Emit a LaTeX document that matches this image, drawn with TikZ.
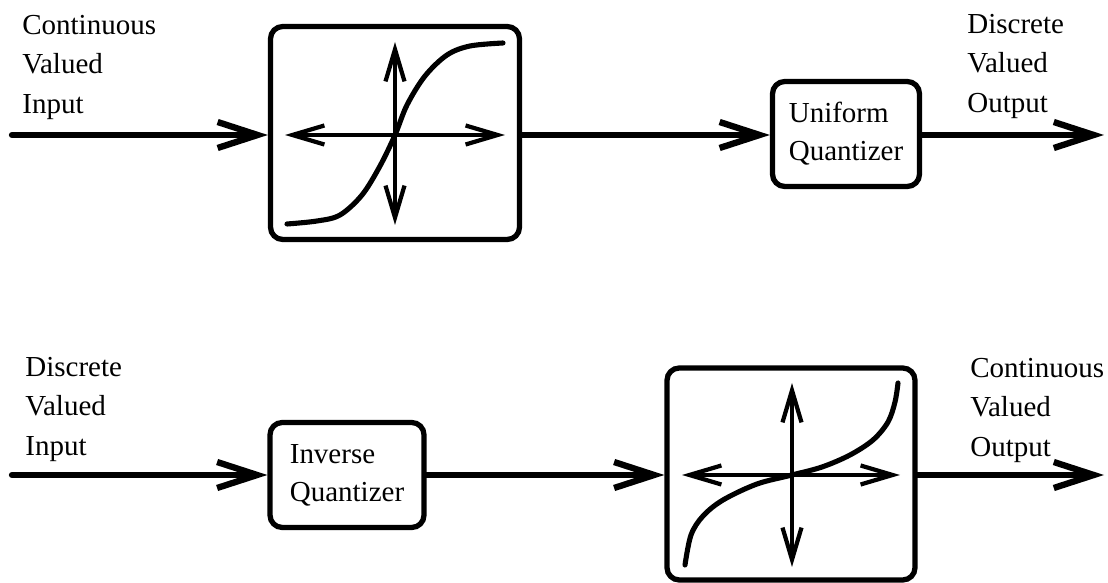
\documentclass[tikz,border=0pt]{standalone}
\usepackage{fontspec}
\setmainfont{Liberation Serif}
\usetikzlibrary{arrows.meta}

\tikzset{
  lbl/.style={align=left, anchor=north west, inner sep=0pt, font=\fontsize{16.5}{22.4}\selectfont},
  blk/.style={draw, line width=3pt, rounded corners=7pt, align=left, inner sep=0pt, font=\fontsize{16.5}{21.6}\selectfont},
  flow/.style={line width=3.6pt, line cap=round, -{Straight Barb[length=8mm,width=5.2mm]}},
  axes/.style={line width=2.4pt, {Straight Barb[length=6.4mm,width=3.8mm]}-{Straight Barb[length=6.4mm,width=3.8mm]}},
  curve/.style={line width=2.9pt, line cap=round},
}

\begin{document}
\begin{tikzpicture}[x=0.2mm,y=-0.2mm]
  \useasboundingbox (0,0) rectangle (1108,583);

  % upper chain: compressor, then quantizer
  \node[lbl] (cin) at (22,15) {Continuous\\Valued\\Input};
  \node[lbl] (dout) at (967,14) {Discrete\\Valued\\Output};
  \coordinate (in1) at (12,135);
  \coordinate (out1) at (1104,135);
  \node[blk, minimum width=4.98cm, minimum height=4.26cm] (comp) at (395,133) {};
  \node[blk, minimum width=2.94cm, minimum height=2.1cm] (uq) at (846,134) {Uniform\\Quantizer};
  \draw[flow] (in1) -- (in1 -| comp.west);
  \draw[flow] (in1 -| comp.east) -- (in1 -| uq.west);
  \draw[flow] (in1 -| uq.east) -- (out1);
  % compressor characteristic
  \draw[axes] (285,135) -- (505,135);
  \draw[axes] (395,225) -- (395,42);
  \draw[curve] plot[smooth, tension=0.55] coordinates {(287,224) (317,221) (340,215) (362,195) (380,166) (395,135) (407,105) (425,76) (447,55) (470,46) (503,43)};

  % lower chain: inverse quantizer, then expander
  \node[lbl] (din) at (25,357) {Discrete\\Valued\\Input};
  \node[lbl] (cout) at (970,358) {Continuous\\Valued\\Output};
  \coordinate (in2) at (12,475);
  \coordinate (out2) at (1104,475);
  \node[blk, minimum width=3.08cm, minimum height=2.1cm] (iq) at (347,475) {Inverse\\Quantizer};
  \node[blk, minimum width=4.96cm, minimum height=4.24cm] (expd) at (791,474) {};
  \draw[flow] (in2) -- (in2 -| iq.west);
  \draw[flow] (in2 -| iq.east) -- (in2 -| expd.west);
  \draw[flow] (in2 -| expd.east) -- (out2);
  % expander characteristic
  \draw[axes] (682,475) -- (900,475);
  \draw[axes] (792,567) -- (792,383);
  \draw[curve] plot[smooth, tension=0.55] coordinates {(685,565) (691,535) (703,516) (723,500) (757,484) (792,475) (822,467) (850,455) (873,440) (888,422) (895,402) (898,383)};
\end{tikzpicture}
\end{document}
